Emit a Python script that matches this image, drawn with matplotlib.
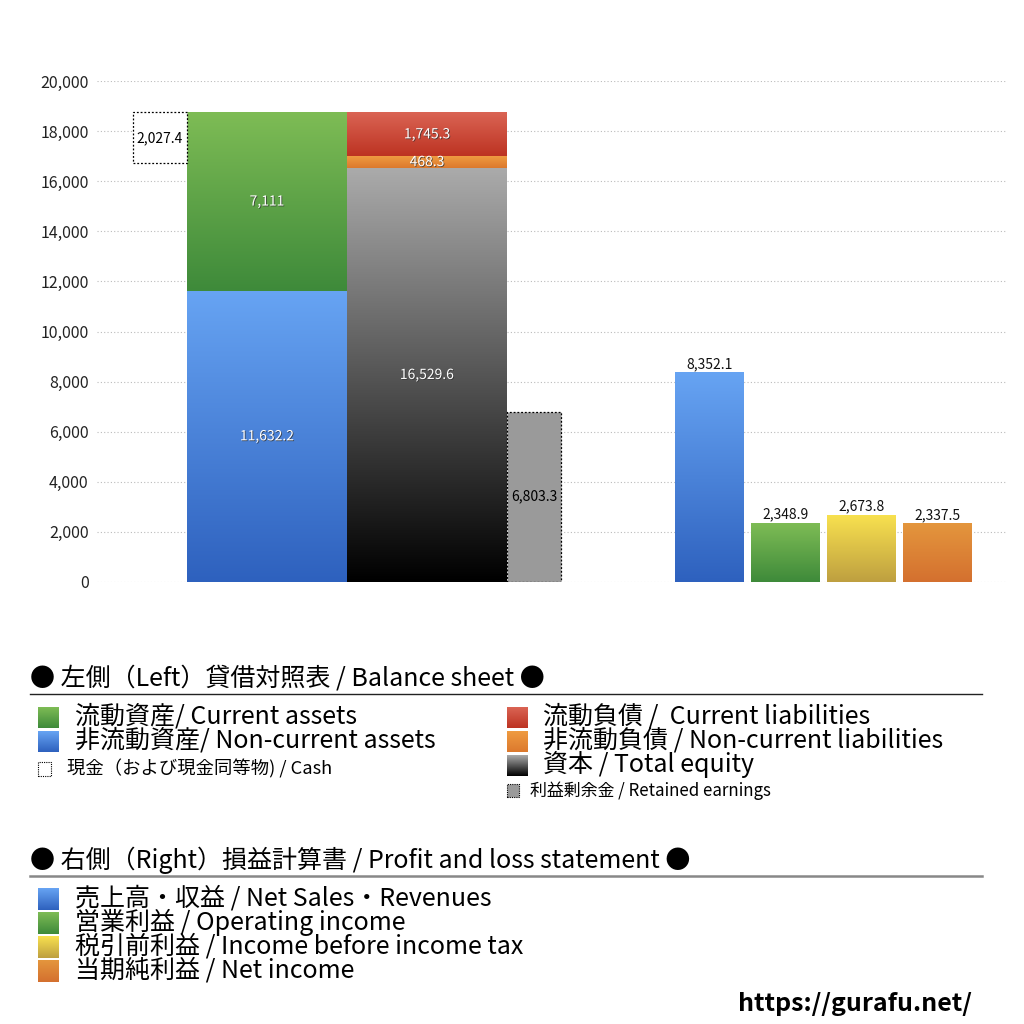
import numpy as np
import matplotlib
matplotlib.use('Agg')
import matplotlib.pyplot as plt
from matplotlib.patches import Rectangle
import matplotlib.patheffects as pe
from matplotlib.colors import to_rgb

plt.rcParams['font.family'] = ['Noto Sans CJK JP', 'DejaVu Sans']

# balance sheet (left)
cash = 2027.4
current_assets = 7111.0
noncurrent_assets = 11632.2
current_liab = 1745.3
noncurrent_liab = 468.3
total_equity = 16529.6
retained_earnings = 6803.3

# profit and loss (right)
pl_names = ['売上高・収益', '営業利益', '税引前利益', '当期純利益']
pl_values = [8352.1, 2348.9, 2673.8, 2337.5]

yticks = [0, 2000, 4000, 6000, 8000, 10000, 12000, 14000, 16000, 18000, 20000]

BLUE = ('#67A4F3', '#2E61BE')
GREEN = ('#7EBC55', '#3E8A3A')
RED = ('#DA6454', '#BD3322')
ORANGE = ('#EF9B41', '#DC792D')
GRAY = ('#ABABAB', '#000000')
YELLOW = ('#F8E14F', '#BE9F40')
ORANGE2 = ('#E4963D', '#D4702F')


def gbar(ax, xc, w, bottom, height, cols):
    top_c = np.array(to_rgb(cols[0]))
    bot_c = np.array(to_rgb(cols[1]))
    t = np.linspace(0, 1, 256)[:, None]
    img = (top_c * (1 - t) + bot_c * t)[:, None, :]
    ax.imshow(img, extent=[xc - w / 2, xc + w / 2, bottom, bottom + height],
              aspect='auto', zorder=2, interpolation='bilinear')


def wlabel(ax, x, y, s):
    ax.text(x, y, s, ha='center', va='center', color='white', fontsize=10,
            zorder=5, path_effects=[pe.withSimplePatchShadow(offset=(0.6, -0.6), shadow_rgbFace='#333333', alpha=0.8)])


W, H = 1024, 1024
fig = plt.figure(figsize=(10.24, 10.24), dpi=100)
ax = fig.add_axes([97 / W, 1 - 582 / H, 910 / W, 501 / H])
ax.set_xlim(0, 910)
ax.set_ylim(0, 20000)
for s in ax.spines.values():
    s.set_visible(False)
ax.set_xticks([])
ax.set_yticks(yticks)
ax.set_yticklabels([f'{v:,}' for v in yticks], fontsize=11.5, color='#222222')
ax.tick_params(axis='y', length=0, pad=6)
ax.grid(axis='y', linestyle=(0, (1, 2)), color='#BBBBBB', linewidth=0.8, zorder=0)
ax.set_axisbelow(True)

total_assets = noncurrent_assets + current_assets

# assets
gbar(ax, 170, 160, 0, noncurrent_assets, BLUE)
gbar(ax, 170, 160, noncurrent_assets, current_assets, GREEN)
wlabel(ax, 170, noncurrent_assets / 2, f'{noncurrent_assets:,.1f}')
wlabel(ax, 170, noncurrent_assets + current_assets / 2, f'{current_assets:,.0f}')

# cash box
ax.add_patch(Rectangle((36, total_assets - cash), 54, cash, facecolor='white',
                       edgecolor='black', linestyle=(0, (1.5, 1.5)), linewidth=0.9, zorder=3))
ax.text(63, total_assets - cash / 2, f'{cash:,.1f}', ha='center', va='center', fontsize=10, zorder=5)

# liabilities + equity
gbar(ax, 330, 160, 0, total_equity, GRAY)
gbar(ax, 330, 160, total_equity, noncurrent_liab, ORANGE)
gbar(ax, 330, 160, total_equity + noncurrent_liab, current_liab, RED)
wlabel(ax, 330, total_equity / 2, f'{total_equity:,.1f}')
wlabel(ax, 330, total_equity + noncurrent_liab / 2, f'{noncurrent_liab:,.1f}')
wlabel(ax, 330, total_equity + noncurrent_liab + current_liab / 2, f'{current_liab:,.1f}')

# retained earnings box
ax.add_patch(Rectangle((410, 0), 54, retained_earnings, facecolor='#9A9A9A',
                       edgecolor='black', linestyle=(0, (1.5, 1.5)), linewidth=0.9, zorder=3))
ax.text(437, retained_earnings / 2, f'{retained_earnings:,.1f}', ha='center', va='center',
        fontsize=10, zorder=5)

# profit and loss bars
pl_x = [612.5, 688.5, 764.5, 840.5]
pl_cols = [BLUE, GREEN, YELLOW, ORANGE2]
for xc, v, c in zip(pl_x, pl_values, pl_cols):
    gbar(ax, xc, 69, 0, v, c)
    ax.text(xc, v + 60, f'{v:,.1f}', ha='center', va='bottom', fontsize=10, color='#111111', zorder=5)

ax.set_xlim(0, 910)
ax.set_ylim(0, 20000)


# ---- legend area (figure pixel coords) ----
def P(x, y):
    return x / W, 1 - y / H


def ftext(x, y, s, size, **kw):
    fig.text(*P(x, y), s, fontsize=size, va='center', ha='left', **kw)


def fpatch(x, y, w, h, cols=None, **kw):
    if cols is not None:
        iax = fig.add_axes([x / W, 1 - (y + h) / H, w / W, h / H])
        top_c = np.array(to_rgb(cols[0]))
        bot_c = np.array(to_rgb(cols[1]))
        t = np.linspace(0, 1, 64)[:, None]
        img = (top_c * (1 - t) + bot_c * t)[:, None, :]
        iax.imshow(img, aspect='auto', interpolation='bilinear')
        iax.axis('off')
    else:
        fig.patches.append(Rectangle(P(x, y + h), w / W, h / H, transform=fig.transFigure, **kw))


fs = 18
ftext(30, 679, '● 左側（Left）貸借対照表 / Balance sheet ●', fs)
fig.add_artist(plt.Line2D([30 / W, 982 / W], [1 - 694 / H] * 2, color='#222222', linewidth=1.0))

fpatch(38, 707, 21, 21, GREEN)
ftext(75, 716, '流動資産/ Current assets', fs)
fpatch(38, 731, 21, 21, BLUE)
ftext(75, 740, '非流動資産/ Non-current assets', fs)
fpatch(38, 762, 13, 14, facecolor='white', edgecolor='black', linestyle=(0, (1, 1)), linewidth=0.8)
ftext(67, 769, '現金（および現金同等物) / Cash', 13.2)

fpatch(507, 707, 21, 21, RED)
ftext(543, 716, '流動負債 /  Current liabilities', fs)
fpatch(507, 731, 21, 21, ORANGE)
ftext(543, 740, '非流動負債 / Non-current liabilities', fs)
fpatch(507, 755, 21, 21, GRAY)
ftext(543, 765, '資本 / Total equity', fs)
fpatch(507, 784, 12, 13, facecolor='#9A9A9A', edgecolor='black', linestyle=(0, (1, 1)), linewidth=0.8)
ftext(530, 791, '利益剰余金 / Retained earnings', 12.2)

ftext(30, 860, '● 右側（Right）損益計算書 / Profit and loss statement ●', fs)
fig.add_artist(plt.Line2D([30 / W, 982 / W], [1 - 876 / H] * 2, color='#888888', linewidth=1.8))

pl_labels = ['売上高・収益 / Net Sales・Revenues', '営業利益 / Operating income',
             '税引前利益 / Income before income tax', '当期純利益 / Net income']
for i, (lab, c) in enumerate(zip(pl_labels, pl_cols)):
    y = 899 + 24 * i
    fpatch(38, y - 11, 21, 22, c)
    ftext(75, y - 1, lab, fs)

fig.text(*P(972, 1004), 'https://gurafu.net/', fontsize=18, fontweight='bold', ha='right', va='center')

fig.savefig('out.png', dpi=100, facecolor='white')
